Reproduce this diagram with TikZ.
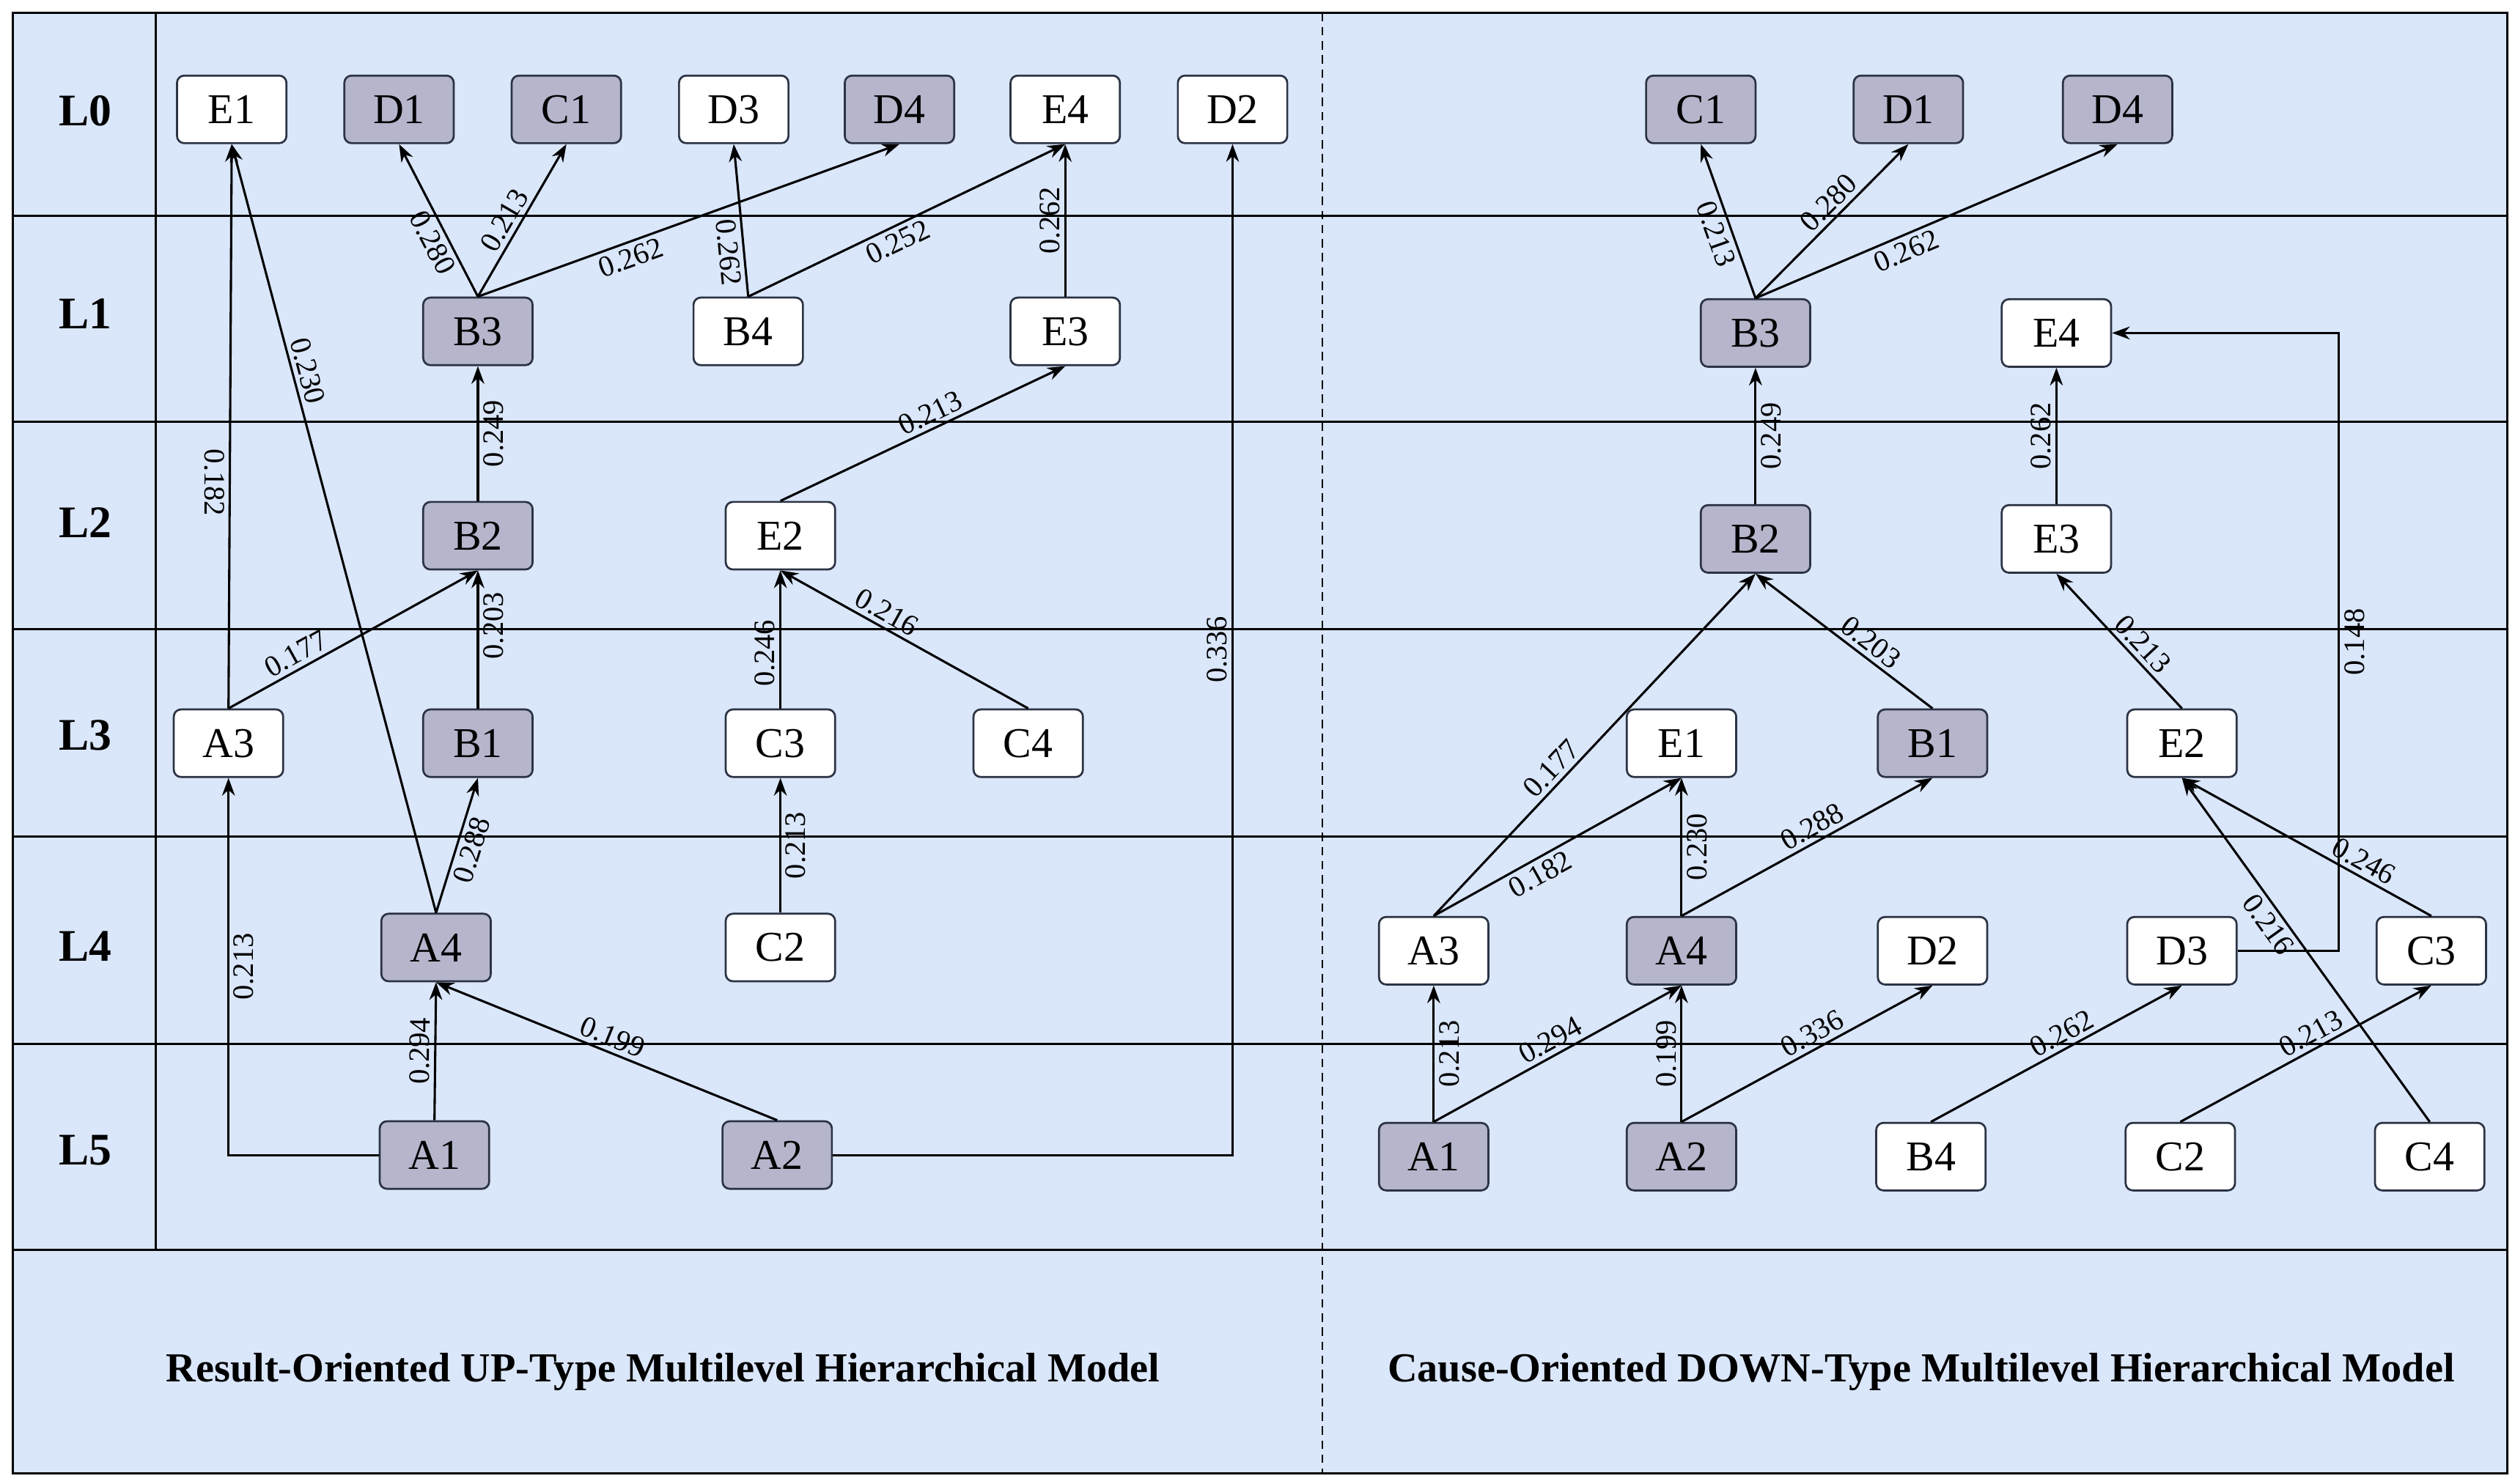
\documentclass[tikz,border=0pt]{standalone}
\usepackage{fontspec}
\setmainfont{Liberation Serif}
\usetikzlibrary{arrows.meta}
\definecolor{bg}{HTML}{DAE6FA}
\definecolor{gn}{HTML}{B5B5CC}
\definecolor{bd}{HTML}{2B3344}
\begin{document}
\begin{tikzpicture}[x=0.2mm,y=-0.2mm,
  nd/.style={draw=bd,line width=0.7pt,fill=white,rounded corners=0.9mm,minimum width=13.6mm,minimum height=8.4mm,inner sep=0pt,font=\fontsize{15}{17}\selectfont},
  g/.style={nd,fill=gn},
  ar/.style={-{Stealth[length=2.2mm,width=1.6mm]},line width=0.8pt,black},
  lb/.style={font=\fontsize{10.5}{12}\selectfont,sloped,above,inner sep=1.5pt},
  lv/.style={font=\bfseries\fontsize{16}{18}\selectfont},
  gl/.style={line width=0.8pt}]
\useasboundingbox (0,0) rectangle (1563,922.5);
\fill[bg] (8,8) rectangle (1558,916);
\draw[gl] (8,8) rectangle (1558,916);
\draw[gl] (97,8) -- (97,777);
\foreach \y in {134,262,391,520,649,777} \draw[gl] (8,\y) -- (1558,\y);
\draw[densely dashed,line width=0.5pt] (822,8) -- (822,916);
\foreach \t/\y in {L0/69,L1/195,L2/325,L3/457,L4/588,L5/715} \node[lv] (lev\t) at (53,\y) {\t};
\node[font=\bfseries\fontsize{14.6}{16}\selectfont] (t1) at (412,853) {Result-Oriented UP-Type Multilevel Hierarchical Model};
\node[font=\bfseries\fontsize{14.6}{16}\selectfont] (t2) at (1194,853) {Cause-Oriented DOWN-Type Multilevel Hierarchical Model};
% left nodes
\node[nd] (lE1) at (144,68) {E1};
\node[g] (lD1) at (248,68) {D1};
\node[g] (lC1) at (352,68) {C1};
\node[nd] (lD3) at (456,68) {D3};
\node[g] (lD4) at (559,68) {D4};
\node[nd] (lE4) at (662,68) {E4};
\node[nd] (lD2) at (766,68) {D2};
\node[g] (lB3) at (297,206) {B3};
\node[nd] (lB4) at (465,206) {B4};
\node[nd] (lE3) at (662,206) {E3};
\node[g] (lB2) at (297,333) {B2};
\node[nd] (lE2) at (485,333) {E2};
\node[nd] (lA3) at (142,462) {A3};
\node[g] (lB1) at (297,462) {B1};
\node[nd] (lC3) at (485,462) {C3};
\node[nd] (lC4) at (639,462) {C4};
\node[g] (lA4) at (271,589) {A4};
\node[nd] (lC2) at (485,589) {C2};
\node[g] (lA1) at (270,718) {A1};
\node[g] (lA2) at (483,718) {A2};
% left edges
\draw[ar] (lA3.north) -- node[lb,pos=0.4,below,rotate=180] {0.182} (lE1.south);
\draw[ar] (lA4.north) -- node[lb,pos=0.7] {0.230} (lE1.south);
\draw[ar] (lB3.north) -- node[lb,pos=0.4,below] {0.280} (lD1.south);
\draw[ar] (lB3.north) -- node[lb,pos=0.45] {0.213} (lC1.south);
\draw[ar] (lB3.north) -- node[lb,pos=0.35,below] {0.262} (lD4.south);
\draw[ar] (lB4.north) -- node[lb,pos=0.3,below] {0.262} (lD3.south);
\draw[ar] (lB4.north) -- node[lb,pos=0.45,below] {0.252} (lE4.south);
\draw[ar] (lE3.north) -- node[lb,pos=0.5] {0.262} (lE4.south);
\draw[ar] (lE2.north) -- node[lb,pos=0.55] {0.213} (lE3.south);
\draw[ar] (lB2.north) -- node[lb,pos=0.5,below] {0.249} (lB3.south);
\draw[ar] (lA3.north) -- node[lb,pos=0.3] {0.177} (lB2.south);
\draw[ar] (lB1.north) -- node[lb,pos=0.6,below] {0.203} (lB2.south);
\draw[ar] (lC3.north) -- node[lb,pos=0.4] {0.246} (lE2.south);
\draw[ar] (lC4.north) -- node[lb,pos=0.6] {0.216} (lE2.south);
\draw[ar] (lC2.north) -- node[lb,pos=0.5,below] {0.213} (lC3.south);
\draw[ar] (lA4.north) -- node[lb,pos=0.5,below] {0.288} (lB1.south);
\draw[ar] (lA1.north) -- node[lb,pos=0.5] {0.294} (lA4.south);
\draw[ar] (lA2.north) -- node[lb,pos=0.5] {0.199} (lA4.south);
\draw[ar] (lA1.west) -| node[lb,pos=0.75,below] {0.213} (lA3.south);
\draw[ar] (lA2.east) -| node[lb,pos=0.75] {0.336} (lD2.south);
% right nodes
\node[g] (rC1) at (1057,68) {C1};
\node[g] (rD1) at (1186,68) {D1};
\node[g] (rD4) at (1316,68) {D4};
\node[g] (rB3) at (1091,207) {B3};
\node[nd] (rE4) at (1278,207) {E4};
\node[g] (rB2) at (1091,335) {B2};
\node[nd] (rE3) at (1278,335) {E3};
\node[nd] (rE1) at (1045,462) {E1};
\node[g] (rB1) at (1201,462) {B1};
\node[nd] (rE2) at (1356,462) {E2};
\node[nd] (rA3) at (891,591) {A3};
\node[g] (rA4) at (1045,591) {A4};
\node[nd] (rD2) at (1201,591) {D2};
\node[nd] (rD3) at (1356,591) {D3};
\node[nd] (rC3) at (1511,591) {C3};
\node[g] (rA1) at (891,719) {A1};
\node[g] (rA2) at (1045,719) {A2};
\node[nd] (rB4) at (1200,719) {B4};
\node[nd] (rC2) at (1355,719) {C2};
\node[nd] (rC4) at (1510,719) {C4};
% right edges
\draw[ar] (rB3.north) -- node[lb,pos=0.45,below] {0.213} (rC1.south);
\draw[ar] (rB3.north) -- node[lb,pos=0.55] {0.280} (rD1.south);
\draw[ar] (rB3.north) -- node[lb,pos=0.4,below] {0.262} (rD4.south);
\draw[ar] (rB2.north) -- node[lb,pos=0.5,below] {0.249} (rB3.south);
\draw[ar] (rE3.north) -- node[lb,pos=0.5] {0.262} (rE4.south);
\draw[ar] (rD3.east) -- ++(63,0) |- node[lb,pos=0.25,below] {0.148} (rE4.east);
\draw[ar] (rA3.north) -- node[lb,pos=0.4] {0.177} (rB2.south);
\draw[ar] (rB1.north) -- node[lb,pos=0.4] {0.203} (rB2.south);
\draw[ar] (rE2.north) -- node[lb,pos=0.4] {0.213} (rE3.south);
\draw[ar] (rA3.north) -- node[lb,pos=0.4,below] {0.182} (rE1.south);
\draw[ar] (rA4.north) -- node[lb,pos=0.5,below] {0.230} (rE1.south);
\draw[ar] (rA4.north) -- node[lb,pos=0.55] {0.288} (rB1.south);
\draw[ar] (rC3.north) -- node[lb,pos=0.3] {0.246} (rE2.south);
\draw[ar] (rC4.north) -- node[lb,pos=0.6,below] {0.216} (rE2.south);
\draw[ar] (rA1.north) -- node[lb,pos=0.5,below] {0.213} (rA3.south);
\draw[ar] (rA1.north) -- node[lb,pos=0.5] {0.294} (rA4.south);
\draw[ar] (rA2.north) -- node[lb,pos=0.5] {0.199} (rA4.south);
\draw[ar] (rA2.north) -- node[lb,pos=0.55] {0.336} (rD2.south);
\draw[ar] (rB4.north) -- node[lb,pos=0.55] {0.262} (rD3.south);
\draw[ar] (rC2.north) -- node[lb,pos=0.55] {0.213} (rC3.south);
\end{tikzpicture}
\end{document}
